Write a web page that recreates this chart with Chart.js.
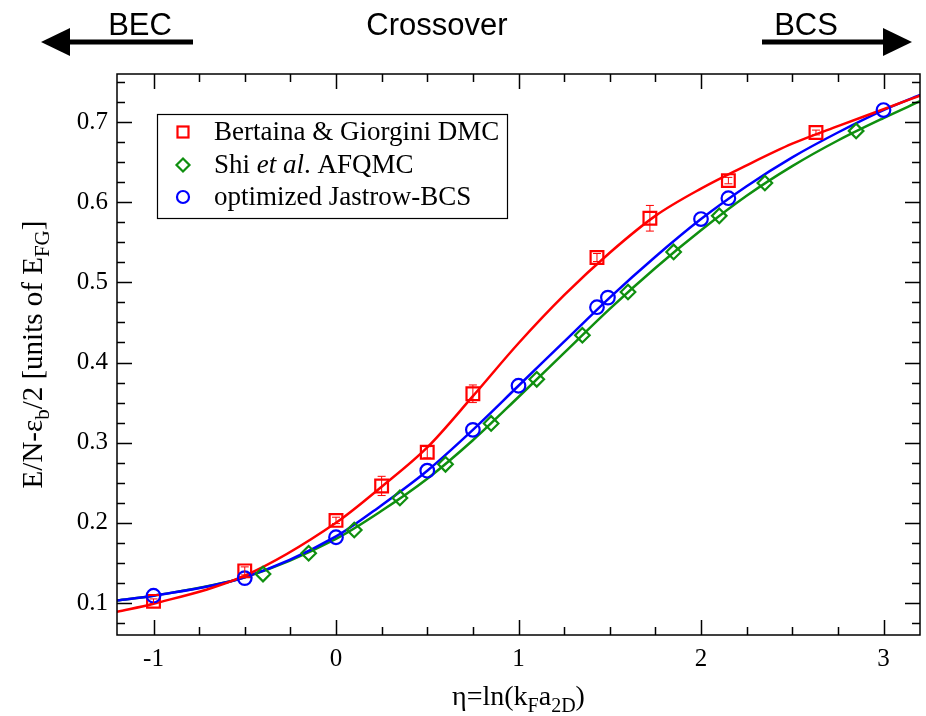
<!DOCTYPE html>
<html><head><meta charset="utf-8">
<script src="https://cdn.jsdelivr.net/npm/chart.js@4/dist/chart.umd.min.js"></script>
<style>html,body{margin:0;padding:0;background:#fff;overflow:hidden;} #wrap{width:926px;height:716px;position:relative;}</style>
</head><body><div id="wrap"><canvas id="c"></canvas></div>
<script>
// ---- data ----
const xTicks = [-1, 0, 1, 2, 3];
const yTicks = [0.1, 0.2, 0.3, 0.4, 0.5, 0.6, 0.7];
const xMinor = [-1.0, -0.75, -0.5, -0.25, 0, 0.25, 0.5, 0.75, 1, 1.25, 1.5, 1.75, 2, 2.25, 2.5, 2.75, 3];
const yMinor = [0.075, 0.1, 0.125, 0.15, 0.175, 0.2, 0.225, 0.25, 0.275, 0.3, 0.325, 0.35, 0.375, 0.4, 0.425, 0.45, 0.475, 0.5, 0.525, 0.55, 0.575, 0.6, 0.625, 0.65, 0.675, 0.7, 0.725, 0.75];

const dmcX   = [-1, -0.5, 0, 0.25, 0.5, 0.75, 1.43, 1.72, 2.15, 2.63];
const dmcY   = [0.102, 0.140, 0.203, 0.246, 0.288, 0.361, 0.531, 0.580, 0.627, 0.687];
const dmcErr = [0.003, 0.005, 0.004, 0.012, 0.007, 0.011, 0.005, 0.016, 0.004, 0.003];

const afqmcX = [-0.4, -0.15, 0.1, 0.35, 0.6, 0.85, 1.1, 1.35, 1.6, 1.85, 2.1, 2.35, 2.85];
const afqmcY = [0.136, 0.162, 0.191, 0.231, 0.273, 0.324, 0.379, 0.434, 0.488, 0.538, 0.583, 0.624, 0.689];

const jbcsX = [-1, -0.5, 0, 0.5, 0.75, 1.0, 1.43, 1.49, 2.0, 2.15, 3.0];
const jbcsY = [0.109, 0.131, 0.182, 0.265, 0.316, 0.371, 0.469, 0.481, 0.579, 0.605, 0.715];

const fitX     = [-1.2, -1, -0.5, 0, 0.25, 0.5, 0.75, 1, 1.25, 1.5, 1.75, 2, 2.25, 2.5, 2.75, 3, 3.2];
const dmcFit   = [0.089, 0.099, 0.134, 0.200, 0.245, 0.294, 0.358, 0.424, 0.484, 0.537, 0.583, 0.617, 0.646, 0.673, 0.695, 0.716, 0.733];
const afqmcFit = [0.103, 0.109, 0.132, 0.180, 0.215, 0.255, 0.303, 0.357, 0.412, 0.467, 0.518, 0.565, 0.608, 0.645, 0.677, 0.705, 0.726];
const jbcsFit  = [0.103, 0.109, 0.132, 0.183, 0.222, 0.265, 0.316, 0.371, 0.426, 0.481, 0.532, 0.579, 0.620, 0.656, 0.687, 0.715, 0.734];

const seriesNames = ['Bertaina & Giorgini DMC', 'Shi et al. AFQMC', 'optimized Jastrow-BCS'];
const RED = '#ff0000', GREEN = '#0f8f0f', BLUE = '#0000ff';

const pts = (xs, ys) => xs.map((x, i) => ({x: x, y: ys[i]}));
const SERIF = '"Liberation Serif", "Times New Roman", serif';
const SANS = '"Liberation Sans", Arial, sans-serif';

const fitStyle = (c) => ({type: 'line', borderColor: c, borderWidth: 2.5, pointRadius: 0, fill: false,
  cubicInterpolationMode: 'monotone', showLine: true});

const decor = {
  id: 'decor',
  afterDatasetsDraw(chart) {
    const ctx = chart.ctx, xs = chart.scales.x, ys = chart.scales.y;
    ctx.save();
    ctx.strokeStyle = RED; ctx.lineWidth = 1;
    dmcX.forEach((x, i) => {
      const px = xs.getPixelForValue(x);
      const y1 = ys.getPixelForValue(dmcY[i] - dmcErr[i]);
      const y2 = ys.getPixelForValue(dmcY[i] + dmcErr[i]);
      ctx.beginPath();
      ctx.moveTo(px, y1); ctx.lineTo(px, y2);
      ctx.moveTo(px - 4, y1); ctx.lineTo(px + 4, y1);
      ctx.moveTo(px - 4, y2); ctx.lineTo(px + 4, y2);
      ctx.stroke();
    });
    ctx.restore();
  },
  afterDraw(chart) {
    const ctx = chart.ctx, xs = chart.scales.x, ys = chart.scales.y, ca = chart.chartArea;
    ctx.save();
    ctx.strokeStyle = '#000'; ctx.lineWidth = 1.5;
    ctx.strokeRect(ca.left, ca.top, ca.right - ca.left, ca.bottom - ca.top);
    ctx.lineWidth = 1.5;
    ctx.beginPath();
    xMinor.forEach(v => {
      const p = Math.round(xs.getPixelForValue(v)) + 0.5;
      const L = xTicks.includes(v) ? 15 : 8;
      ctx.moveTo(p, ca.bottom); ctx.lineTo(p, ca.bottom - L);
      ctx.moveTo(p, ca.top); ctx.lineTo(p, ca.top + L);
    });
    yMinor.forEach(v => {
      const p = Math.round(ys.getPixelForValue(v)) + 0.5;
      const L = yTicks.some(t => Math.abs(t - v) < 1e-9) ? 15 : 8;
      ctx.moveTo(ca.left, p); ctx.lineTo(ca.left + L, p);
      ctx.moveTo(ca.right, p); ctx.lineTo(ca.right - L, p);
    });
    ctx.stroke();

    const drawParts = (parts, x, y, big, small) => {
      parts.forEach(p => {
        ctx.font = (p[1] ? small : big) + 'px ' + SERIF;
        ctx.fillText(p[0], x, y + (p[1] ? 7 : 0));
        x += ctx.measureText(p[0]).width;
      });
    };
    const measure = (parts, big, small) => parts.reduce((w, p) => {
      ctx.font = (p[1] ? small : big) + 'px ' + SERIF; return w + ctx.measureText(p[0]).width; }, 0);
    ctx.fillStyle = '#000'; ctx.textBaseline = 'alphabetic'; ctx.textAlign = 'left';
    const xParts = [['η=ln(k', 0], ['F', 1], ['a', 0], ['2D', 1], [')', 0]];
    const cx = (ca.left + ca.right) / 2;
    drawParts(xParts, cx - measure(xParts, 28, 20) / 2, 705, 28, 20);
    const yParts = [['E/N-ε', 0], ['b', 1], ['/2 [units of E', 0], ['FG', 1], [']', 0]];
    ctx.save();
    ctx.translate(42, (ca.top + ca.bottom) / 2);
    ctx.rotate(-Math.PI / 2);
    drawParts(yParts, -measure(yParts, 29, 21) / 2, 0, 29, 21);
    ctx.restore();

    // legend
    const lx = ca.left + 40, ly = ca.top + 40, lw = 350, lh = 104;
    ctx.fillStyle = '#fff'; ctx.fillRect(lx, ly, lw, lh);
    ctx.strokeStyle = '#000'; ctx.lineWidth = 1.2; ctx.strokeRect(lx + 0.5, ly + 0.5, lw, lh);
    const rows = [ly + 18, ly + 51, ly + 83];
    const mx = lx + 26, tx = lx + 57;
    ctx.lineWidth = 2.2;
    ctx.strokeStyle = RED; ctx.strokeRect(mx - 5.5, rows[0] - 5.5, 11, 11);
    ctx.strokeStyle = GREEN; ctx.beginPath();
    ctx.moveTo(mx, rows[1] - 6.5); ctx.lineTo(mx + 6.5, rows[1]); ctx.lineTo(mx, rows[1] + 6.5); ctx.lineTo(mx - 6.5, rows[1]); ctx.closePath(); ctx.stroke();
    ctx.strokeStyle = BLUE; ctx.beginPath(); ctx.arc(mx, rows[2], 6, 0, Math.PI * 2); ctx.stroke();
    ctx.fillStyle = '#000'; ctx.textBaseline = 'middle';
    const LF = 27;
    ctx.font = LF + 'px ' + SERIF;
    ctx.fillText(seriesNames[0], tx, rows[0] + 1);
    let x = tx;
    const p1 = 'Shi ', p2 = 'et al', p3 = '. AFQMC';
    ctx.font = LF + 'px ' + SERIF; ctx.fillText(p1, x, rows[1] + 1); x += ctx.measureText(p1).width;
    ctx.font = 'italic ' + LF + 'px ' + SERIF; ctx.fillText(p2, x, rows[1] + 1); x += ctx.measureText(p2).width;
    ctx.font = LF + 'px ' + SERIF; ctx.fillText(p3, x, rows[1] + 1);
    ctx.fillText(seriesNames[2], tx, rows[2] + 1);

    // top arrows and labels
    ctx.fillStyle = '#000';
    const ay = 42;
    ctx.fillRect(66, ay - 2.5, 127, 5);
    ctx.beginPath(); ctx.moveTo(41, ay); ctx.lineTo(70, ay - 14); ctx.lineTo(70, ay + 14); ctx.closePath(); ctx.fill();
    ctx.fillRect(762, ay - 2.5, 125, 5);
    ctx.beginPath(); ctx.moveTo(912, ay); ctx.lineTo(883, ay - 14); ctx.lineTo(883, ay + 14); ctx.closePath(); ctx.fill();
    ctx.font = '31px ' + SANS; ctx.textBaseline = 'alphabetic';
    ctx.textAlign = 'center';
    ctx.fillText('BEC', 140, 35);
    ctx.fillText('Crossover', 437, 35);
    ctx.fillText('BCS', 806, 35);
    ctx.restore();
  }
};

new Chart(document.getElementById('c'), {
  type: 'scatter',
  data: {
    datasets: [
      Object.assign({label: seriesNames[0] + ' fit', data: pts(fitX, dmcFit), order: 10}, fitStyle(RED)),
      Object.assign({label: seriesNames[1] + ' fit', data: pts(fitX, afqmcFit), order: 12}, fitStyle(GREEN)),
      Object.assign({label: seriesNames[2] + ' fit', data: pts(fitX, jbcsFit), order: 11}, fitStyle(BLUE)),
      {label: seriesNames[0], data: pts(dmcX, dmcY), pointStyle: 'rect', pointRadius: 9,
        borderColor: RED, backgroundColor: 'rgba(0,0,0,0)', pointBorderWidth: 2.2, borderWidth: 2.2, order: 3},
      {label: seriesNames[1], data: pts(afqmcX, afqmcY), pointStyle: 'rectRot', pointRadius: 7.3,
        borderColor: GREEN, backgroundColor: 'rgba(0,0,0,0)', pointBorderWidth: 2.2, borderWidth: 2.2, order: 2},
      {label: seriesNames[2], data: pts(jbcsX, jbcsY), pointStyle: 'circle', pointRadius: 6.8,
        borderColor: BLUE, backgroundColor: 'rgba(0,0,0,0)', pointBorderWidth: 2.2, borderWidth: 2.2, order: 1}
    ]
  },
  options: {
    responsive: true, maintainAspectRatio: false, animation: false,
    layout: {autoPadding: false, padding: {top: 74, right: 6, left: 0, bottom: 0}},
    plugins: {legend: {display: false}, tooltip: {enabled: false}},
    scales: {
      x: {type: 'linear', min: -1.2, max: 3.2,
        afterBuildTicks: s => { s.ticks = xTicks.map(v => ({value: v})); },
        afterFit: s => { s.height = 81; },
        grid: {display: false, drawTicks: false}, border: {display: false},
        ticks: {color: '#000', padding: 9, maxRotation: 0, autoSkip: false,
          font: {family: SERIF, size: 25}, callback: v => String(v)}},
      y: {type: 'linear', min: 0.06, max: 0.76,
        afterBuildTicks: s => { s.ticks = yTicks.map(v => ({value: v})); },
        afterFit: s => { s.width = 117; },
        grid: {display: false, drawTicks: false}, border: {display: false},
        ticks: {color: '#000', padding: 9, autoSkip: false,
          font: {family: SERIF, size: 25}, callback: v => v.toFixed(1)}}
    }
  },
  plugins: [decor]
});
</script></body></html>
